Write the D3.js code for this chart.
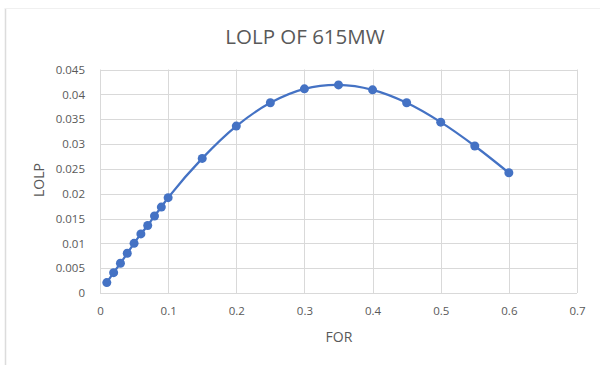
<!DOCTYPE html>
<html>
<head>
<meta charset="utf-8">
<script src="https://cdn.jsdelivr.net/npm/d3@7"></script>
<style>
  body { margin: 0; background: #fff; }
  svg { display: block; font-family: "Open Sans", "Liberation Sans", sans-serif; }
</style>
</head>
<body>
<svg id="chart"></svg>
<script>
const width = 600;
const height = 365;

const forValues = [0.01, 0.02, 0.03, 0.04, 0.05, 0.06, 0.07, 0.08, 0.09, 0.1,
  0.15, 0.2, 0.25, 0.3, 0.35, 0.4, 0.45, 0.5, 0.55, 0.6];
const lolpValues = [0.0021, 0.0041, 0.006, 0.008, 0.01, 0.0119, 0.0136, 0.0155, 0.0173, 0.0192,
  0.0271, 0.0336, 0.0383, 0.0411, 0.0419, 0.0409, 0.0383, 0.0344, 0.0296, 0.0242];
const xTicks = [0, 0.1, 0.2, 0.3, 0.4, 0.5, 0.6, 0.7];
const yTicks = [0, 0.005, 0.01, 0.015, 0.02, 0.025, 0.03, 0.035, 0.04, 0.045];

const data = forValues.map((f, i) => ({ x: f, y: lolpValues[i] }));

const svg = d3.select("#chart").attr("width", width).attr("height", height);

// faint chart frame on the left and top
svg.append("line")
  .attr("x1", 5.5).attr("x2", 5.5).attr("y1", 8).attr("y2", height)
  .attr("stroke", "#dcdcdc").attr("stroke-width", 1.5);
svg.append("line")
  .attr("x1", 5).attr("x2", width).attr("y1", 8.5).attr("y2", 8.5)
  .attr("stroke", "#f0f0f0");

const x = d3.scaleLinear().domain([0, 0.7]).range([100, 577]);
const y = d3.scaleLinear().domain([0, 0.045]).range([293, 69.5]);

const grid = svg.append("g");
grid.selectAll(".h")
  .data(yTicks)
  .enter()
  .append("line")
  .attr("x1", x(0)).attr("x2", x(0.7))
  .attr("y1", (d) => Math.round(y(d)) + 0.5)
  .attr("y2", (d) => Math.round(y(d)) + 0.5)
  .attr("stroke", "#d9d9d9");
grid.selectAll(".v")
  .data(xTicks)
  .enter()
  .append("line")
  .attr("x1", (d) => Math.round(x(d)) + 0.5)
  .attr("x2", (d) => Math.round(x(d)) + 0.5)
  .attr("y1", y(0.045)).attr("y2", y(0))
  .attr("stroke", "#d9d9d9");

const xAxis = svg.append("g")
  .attr("transform", `translate(0,${y(0)})`)
  .call(d3.axisBottom(x).tickValues(xTicks).tickSize(0).tickPadding(14)
    .tickFormat((d) => (d === 0 ? "0" : d3.format(".1f")(d))));
xAxis.select(".domain").remove();

const yAxis = svg.append("g")
  .attr("transform", `translate(${x(0)},0)`)
  .call(d3.axisLeft(y).tickValues(yTicks).tickSize(0).tickPadding(15)
    .tickFormat((d) => (d === 0 ? "0" : String(+d.toFixed(3)))));
yAxis.select(".domain").remove();

svg.selectAll(".tick text")
  .attr("fill", "#595959")
  .attr("font-size", 11.5)
  .attr("font-family", "'Open Sans', 'Liberation Sans', sans-serif");

svg.append("text")
  .attr("x", 305).attr("y", 43.5)
  .attr("text-anchor", "middle")
  .attr("fill", "#595959")
  .attr("font-size", 20.5)
  .text("LOLP OF 615MW");

svg.append("text")
  .attr("x", 339).attr("y", 342)
  .attr("text-anchor", "middle")
  .attr("fill", "#595959")
  .attr("font-size", 14)
  .text("FOR");

svg.append("text")
  .attr("transform", `translate(43.5,180) rotate(-90)`)
  .attr("text-anchor", "middle")
  .attr("fill", "#595959")
  .attr("font-size", 14)
  .text("LOLP");

svg.append("path")
  .datum(data)
  .attr("fill", "none")
  .attr("stroke", "#4472c4")
  .attr("stroke-width", 2.25)
  .attr("d", d3.line().curve(d3.curveCatmullRom.alpha(0.5))
    .x((d) => x(d.x))
    .y((d) => y(d.y)));

svg.selectAll("circle")
  .data(data)
  .enter()
  .append("circle")
  .attr("cx", (d) => x(d.x))
  .attr("cy", (d) => y(d.y))
  .attr("r", 4.5)
  .attr("fill", "#4472c4");
</script>
</body>
</html>
